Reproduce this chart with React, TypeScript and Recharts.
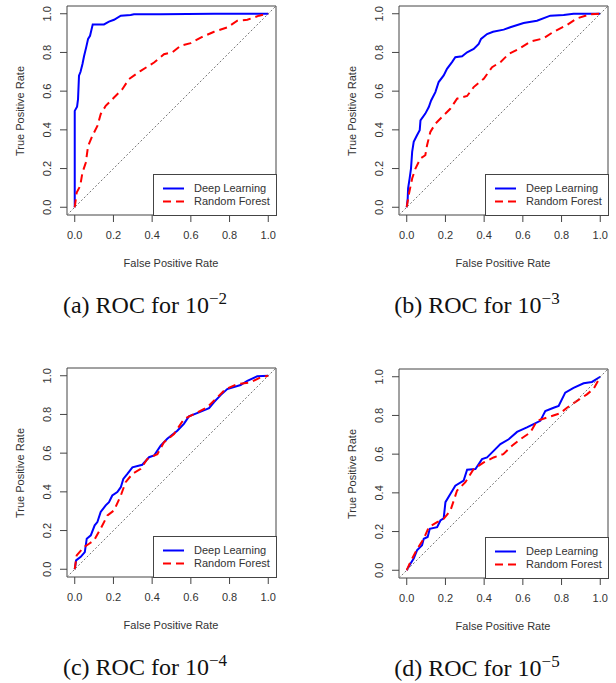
import React from "react";
import { LineChart, Line, XAxis, YAxis, ReferenceLine, ReferenceArea } from "recharts";

// ROC points: [false positive rate, true positive rate]
const dlA: [number, number][] = [
  [0, 0], [0, 0.498], [0.012, 0.52], [0.017, 0.559], [0.022, 0.68], [0.03, 0.7], [0.04, 0.74],
  [0.048, 0.78], [0.06, 0.83], [0.069, 0.87], [0.079, 0.886], [0.093, 0.945], [0.151, 0.945],
  [0.177, 0.959], [0.203, 0.969], [0.238, 0.99], [0.289, 0.993], [0.306, 0.997], [0.444, 0.998],
  [0.72, 1.0], [1, 1],
];
const rfA: [number, number][] = [
  [0, 0], [0.01, 0.076], [0.028, 0.11], [0.04, 0.18], [0.057, 0.23], [0.069, 0.317], [0.091, 0.369],
  [0.117, 0.42], [0.134, 0.481], [0.16, 0.524], [0.203, 0.567], [0.246, 0.61], [0.28, 0.662],
  [0.341, 0.705], [0.41, 0.748], [0.461, 0.791], [0.504, 0.8], [0.547, 0.834], [0.599, 0.848],
  [0.651, 0.877], [0.72, 0.907], [0.788, 0.929], [0.84, 0.964], [0.892, 0.969], [0.952, 0.99], [1, 1],
];
const dlB: [number, number][] = [
  [0, 0], [0.005, 0.046], [0.007, 0.098], [0.015, 0.149], [0.022, 0.2], [0.028, 0.286], [0.036, 0.338],
  [0.053, 0.372], [0.067, 0.398], [0.071, 0.449], [0.096, 0.484], [0.114, 0.518], [0.126, 0.552],
  [0.148, 0.595], [0.165, 0.647], [0.191, 0.681], [0.208, 0.715], [0.234, 0.75], [0.251, 0.775],
  [0.286, 0.78], [0.312, 0.801], [0.346, 0.818], [0.372, 0.844], [0.384, 0.87], [0.415, 0.895],
  [0.446, 0.907], [0.501, 0.918], [0.535, 0.93], [0.604, 0.952], [0.673, 0.964], [0.742, 0.99],
  [0.811, 0.993], [0.862, 1.0], [1, 1],
];
const rfB: [number, number][] = [
  [0, 0], [0.01, 0.063], [0.028, 0.149], [0.045, 0.2], [0.071, 0.252], [0.096, 0.269], [0.105, 0.321],
  [0.122, 0.389], [0.148, 0.432], [0.191, 0.475], [0.225, 0.509], [0.26, 0.561], [0.312, 0.575],
  [0.346, 0.621], [0.398, 0.664], [0.441, 0.724], [0.484, 0.75], [0.527, 0.792], [0.578, 0.818],
  [0.639, 0.856], [0.707, 0.873], [0.759, 0.907], [0.828, 0.942], [0.88, 0.976], [0.948, 0.997], [1, 1],
];
const dlC: [number, number][] = [
  [0, 0], [0.007, 0.046], [0.031, 0.064], [0.052, 0.089], [0.062, 0.158], [0.083, 0.175], [0.103, 0.227],
  [0.117, 0.244], [0.134, 0.296], [0.16, 0.33], [0.177, 0.347], [0.194, 0.381], [0.22, 0.399],
  [0.238, 0.424], [0.251, 0.467], [0.272, 0.493], [0.298, 0.527], [0.349, 0.54], [0.384, 0.579],
  [0.41, 0.588], [0.444, 0.639], [0.478, 0.674], [0.53, 0.716], [0.564, 0.751], [0.59, 0.79],
  [0.642, 0.811], [0.694, 0.832], [0.719, 0.863], [0.754, 0.9], [0.788, 0.931], [0.857, 0.952],
  [0.892, 0.974], [0.943, 0.997], [1, 1],
];
const rfC: [number, number][] = [
  [0, 0], [0.01, 0.072], [0.048, 0.115], [0.074, 0.132], [0.1, 0.149], [0.134, 0.21], [0.169, 0.278],
  [0.203, 0.304], [0.238, 0.381], [0.263, 0.45], [0.298, 0.493], [0.341, 0.519], [0.375, 0.57],
  [0.427, 0.595], [0.461, 0.656], [0.513, 0.699], [0.565, 0.777], [0.616, 0.802], [0.685, 0.837],
  [0.737, 0.889], [0.78, 0.931], [0.84, 0.957], [0.909, 0.966], [0.96, 0.991], [1, 1],
];
const dlD: [number, number][] = [
  [0, 0], [0.019, 0.034], [0.036, 0.06], [0.053, 0.103], [0.079, 0.129], [0.088, 0.163], [0.108, 0.172],
  [0.119, 0.214], [0.157, 0.223], [0.174, 0.257], [0.191, 0.269], [0.2, 0.352], [0.226, 0.395],
  [0.251, 0.437], [0.294, 0.463], [0.312, 0.52], [0.355, 0.523], [0.389, 0.574], [0.415, 0.583],
  [0.449, 0.617], [0.484, 0.652], [0.527, 0.677], [0.57, 0.715], [0.621, 0.738], [0.69, 0.772],
  [0.716, 0.823], [0.759, 0.84], [0.785, 0.849], [0.819, 0.918], [0.862, 0.943], [0.914, 0.966],
  [0.957, 0.973], [1, 1],
];
const rfD: [number, number][] = [
  [0, 0], [0.019, 0.043], [0.05, 0.103], [0.088, 0.163], [0.114, 0.223], [0.157, 0.249], [0.191, 0.266],
  [0.226, 0.309], [0.26, 0.412], [0.303, 0.455], [0.346, 0.523], [0.398, 0.557], [0.449, 0.583],
  [0.499, 0.6], [0.544, 0.643], [0.587, 0.677], [0.639, 0.712], [0.673, 0.772], [0.725, 0.789],
  [0.793, 0.811], [0.828, 0.84], [0.88, 0.875], [0.931, 0.909], [0.966, 0.938], [1, 1],
];

const ticks = [0, 0.2, 0.4, 0.6, 0.8, 1];
const tickLabels = ["0.0", "0.2", "0.4", "0.6", "0.8", "1.0"];
const seriesNames = ["Deep Learning", "Random Forest"];
const panels = [
  { key: "a", dl: dlA, rf: rfA, exp: "2", ox: 0, oy: 0 },
  { key: "b", dl: dlB, rf: rfB, exp: "3", ox: 332, oy: 0 },
  { key: "c", dl: dlC, rf: rfC, exp: "4", ox: 0, oy: 362 },
  { key: "d", dl: dlD, rf: rfD, exp: "5", ox: 332, oy: 363 },
];

const sans = "'Liberation Sans', Arial, sans-serif";
const serif = "'Liberation Serif', 'Times New Roman', serif";
const ink = "#333";
const frame = "#444";

const toPts = (arr: [number, number][]) => arr.map(([x, y]) => ({ x, y }));
const fmt = (v: number) => tickLabels[ticks.indexOf(v)] ?? String(v);

function YTick(props: any) {
  const { x, y, payload } = props;
  const bx = x - 9;
  return (
    <text x={bx} y={y} transform={`rotate(-90, ${bx}, ${y})`} textAnchor="middle"
      fontSize={11} fontFamily={sans} fill={ink}>
      {fmt(payload.value)}
    </text>
  );
}

function Panel({ dl, rf, ox, oy }: any) {
  return (
    <div style={{ position: "absolute", left: ox, top: oy, width: 300, height: 280 }}>
      <LineChart width={300} height={280} margin={{ top: 6, right: 24, bottom: 0, left: 0 }}>
        <XAxis type="number" dataKey="x" domain={[-0.04, 1.04]} ticks={ticks} tickFormatter={fmt}
          axisLine={false} tickSize={7} tickMargin={9} height={65} allowDataOverflow
          tickLine={{ stroke: frame }} tick={{ fontSize: 11, fontFamily: sans, fill: ink }} />
        <YAxis type="number" domain={[-0.04, 1.04]} ticks={ticks} width={67} axisLine={false}
          tickSize={7} tickMargin={0} allowDataOverflow tickLine={{ stroke: frame }} tick={<YTick />} />
        <ReferenceArea x1={-0.04} x2={1.04} y1={-0.04} y2={1.04} fill="none" stroke={frame} strokeWidth={1} />
        <Line data={toPts(dl)} dataKey="y" type="linear" dot={false} stroke="#0000ff" strokeWidth={2}
          isAnimationActive={false} />
        <Line data={toPts(rf)} dataKey="y" type="linear" dot={false} stroke="#ff0000" strokeWidth={2}
          strokeDasharray="8 5" isAnimationActive={false} />
        <ReferenceLine segment={[{ x: -0.04, y: -0.04 }, { x: 1.04, y: 1.04 }]} stroke="#777"
          strokeDasharray="2 2" strokeWidth={1} />
      </LineChart>
      <div style={{ position: "absolute", left: 171 - 70, width: 140, top: 256, textAlign: "center",
        fontFamily: sans, fontSize: 11, color: ink, lineHeight: "14px" }}>False Positive Rate</div>
      <div style={{ position: "absolute", left: 20 - 70, top: 111 - 7, width: 140, height: 14,
        textAlign: "center", transform: "rotate(-90deg)", fontFamily: sans, fontSize: 11, color: ink,
        lineHeight: "14px" }}>True Positive Rate</div>
      <div style={{ position: "absolute", left: 153, top: 174, width: 122, height: 40,
        border: `1px solid ${frame}`, background: "#fff", fontFamily: sans, fontSize: 11, color: ink }}>
        {seriesNames.map((name, i) => (
          <div key={name} style={{ position: "absolute", left: 0, top: 7 + i * 13, height: 13,
            display: "flex", alignItems: "center" }}>
            <svg width={40} height={13}>
              <line x1={9} x2={30} y1={6.5} y2={6.5} stroke={i === 0 ? "#0000ff" : "#ff0000"}
                strokeWidth={2} strokeDasharray={i === 0 ? undefined : "8 5"} />
            </svg>
            <span style={{ lineHeight: "13px" }}>{name}</span>
          </div>
        ))}
      </div>
    </div>
  );
}

export default function App() {
  return (
    <div style={{ position: "absolute", left: 0, top: 0, width: 616, height: 683, background: "#fff" }}>
      {panels.map((p) => (
        <React.Fragment key={p.key}>
          <Panel {...p} />
          <div style={{ position: "absolute", left: p.ox + 145 - 110, width: 220, top: p.oy + 292,
            textAlign: "center", fontFamily: serif, fontSize: 24, lineHeight: "26px", color: "#111",
            whiteSpace: "nowrap" }}>
            ({p.key}) ROC for 10<span style={{ fontSize: 17, position: "relative", top: -9 }}>−{p.exp}</span>
          </div>
        </React.Fragment>
      ))}
    </div>
  );
}
